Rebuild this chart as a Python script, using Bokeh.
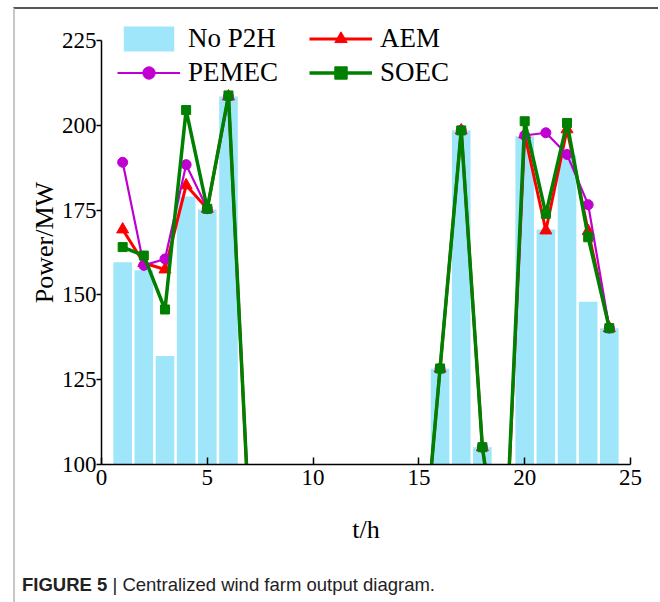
from bokeh.plotting import figure
from bokeh.models import Legend, LegendItem, FixedTicker, Div, ColumnDataSource
from bokeh.layouts import column
from bokeh.embed import file_html
from bokeh.resources import INLINE

hours = list(range(1, 25))
no_p2h = [159.6, 157.3, 132.0, 179.0, 175.2, 208.5, 81.0, 62.0, 50.0, 45.0, 42.0, 44.0,
          48.0, 52.0, 58.0, 128.2, 198.5, 105.1, 62.0, 196.8, 169.3, 191.2, 148.0, 140.2]
aem = [169.3, 159.4, 157.5, 182.3, 175.4, 208.5, 81.0, 62.0, 50.0, 45.0, 42.0, 44.0,
       48.0, 52.0, 58.0, 128.3, 198.5, 105.1, 62.0, 197.3, 169.0, 198.8, 168.8, 140.2]
pemec = [189.1, 158.7, 160.6, 188.4, 175.4, 208.5, 81.0, 62.0, 50.0, 45.0, 42.0, 44.0,
         48.0, 52.0, 58.0, 128.3, 198.5, 105.1, 62.0, 197.0, 197.8, 191.4, 176.6, 140.2]
soec = [164.1, 161.6, 145.7, 204.5, 175.4, 208.8, 81.0, 62.0, 50.0, 45.0, 42.0, 44.0,
        48.0, 52.0, 58.0, 128.3, 198.5, 105.1, 62.0, 201.2, 173.9, 200.7, 167.0, 140.2]
x_ticks = [0, 5, 10, 15, 20, 25]
y_ticks = [100, 125, 150, 175, 200, 225]

src = ColumnDataSource(dict(h=hours, bar=no_p2h, aem=aem, pemec=pemec, soec=soec))

SERIF = "Liberation Serif"

p = figure(frame_width=529, frame_height=444, x_range=(0, 25), y_range=(100, 230.9),
           output_backend="svg", toolbar_location=None,
           min_border_left=86, min_border_top=11, min_border_right=28, min_border_bottom=70)
p.outline_line_color = None
p.grid.visible = False
p.background_fill_color = "white"

bars = p.vbar(x="h", top="bar", bottom=0, width=0.88, source=src,
              fill_color="#a0e6fa", line_color=None)

l_aem = p.line("h", "aem", source=src, line_color="#ff0000", line_width=3)
s_aem = p.scatter("h", "aem", source=src, marker="triangle", size=12,
                  fill_color="#ff0000", line_color="#ff0000")
l_pem = p.line("h", "pemec", source=src, line_color="#c000d0", line_width=2.2)
s_pem = p.scatter("h", "pemec", source=src, marker="circle", size=10,
                  fill_color="#c000d0", line_color="#c000d0")
l_soec = p.line("h", "soec", source=src, line_color="#008000", line_width=3.5)
s_soec = p.scatter("h", "soec", source=src, marker="square", size=9,
                   fill_color="#008000", line_color="#008000")

for ax in (p.xaxis[0], p.yaxis[0]):
    ax.axis_line_color = "black"
    ax.axis_line_width = 1.5
    ax.major_tick_line_color = "black"
    ax.major_tick_line_width = 1.5
    ax.minor_tick_line_color = None
    ax.major_label_text_font = SERIF
    ax.major_label_text_font_size = "23px"
    ax.major_label_text_color = "black"
    ax.axis_label_text_font = SERIF
    ax.axis_label_text_font_size = "26px"
    ax.axis_label_text_font_style = "normal"
    ax.axis_label_text_color = "black"

p.xaxis.ticker = FixedTicker(ticks=x_ticks)
p.yaxis.ticker = FixedTicker(ticks=y_ticks)
p.yaxis.bounds = (100, 225)
p.xaxis.major_tick_in = 7
p.xaxis.major_tick_out = 0
p.xaxis.major_label_standoff = 5
p.xaxis.axis_label = "t/h"
p.xaxis.axis_label_standoff = 27
p.yaxis.major_tick_in = 0
p.yaxis.major_tick_out = 5
p.yaxis.major_label_standoff = 0
p.yaxis.axis_label = "Power/MW"
p.yaxis.axis_label_standoff = 0

legend = Legend(items=[
    LegendItem(label="No P2H", renderers=[bars]),
    LegendItem(label="PEMEC", renderers=[l_pem, s_pem]),
    LegendItem(label="AEM", renderers=[l_aem, s_aem]),
    LegendItem(label="SOEC", renderers=[l_soec, s_soec]),
], ncols=2, orientation="vertical", location=(16, 376), padding=0, margin=0,
    spacing=3, glyph_width=63, glyph_height=31, label_standoff=8, label_width=118,
    label_text_font=SERIF, label_text_font_size="27px", label_text_color="black",
    border_line_color=None, background_fill_alpha=0)
p.add_layout(legend, "center")

caption = Div(text='<span style="font-weight:bold">FIGURE 5</span> | Centralized wind farm output diagram.',
              styles={"font-family": "Liberation Sans", "font-size": "18.5px", "color": "#222",
                      "margin-left": "7px", "margin-top": "26px"})

layout = column(p, caption, styles={"border-top": "2px solid #555", "border-left": "2px solid #c8c8c8",
                                    "margin-left": "13px", "margin-top": "7px",
                                    "padding-bottom": "8px"})

open("out.html", "w").write(file_html(layout, INLINE))
